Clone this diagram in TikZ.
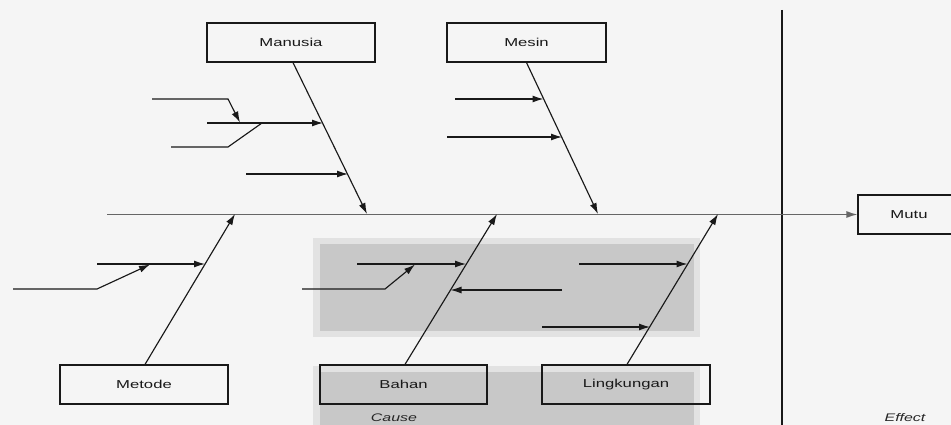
\documentclass[tikz,border=0pt]{standalone}
\usepackage{fontspec}
\setmainfont{Liberation Sans}
\usepackage{graphicx}
\usetikzlibrary{arrows.meta,calc}
\definecolor{bgc}{RGB}{245,245,245}
\definecolor{shadec}{RGB}{200,200,200}
\definecolor{haloc}{RGB}{226,226,226}
\definecolor{inkc}{RGB}{25,25,25}
\newcommand\wt[1]{\scalebox{1.45}[1]{#1}}
\tikzset{
  box/.style={draw=inkc, line width=1.2pt, minimum height=39pt, inner sep=0pt,
              font=\fontsize{11.5}{13}\selectfont, text=black!90},
  lab/.style={font=\fontsize{11}{13}\selectfont\itshape, text=black!85, inner sep=0pt},
  arr/.style={draw=inkc, line width=1.15pt, -{Latex[length=11pt,width=7pt]}},
  plain/.style={draw=inkc, line width=1.15pt},
  spine/.style={draw=black!60, line width=1.2pt, -{Latex[length=11pt,width=7pt]}}
}
\begin{document}
\begin{tikzpicture}[x=1pt,y=-1pt]
\useasboundingbox (0,0) rectangle (951,425);
\fill[bgc] (0,0) rectangle (951,425);
% shaded regions
\fill[haloc] (313,238) rectangle (700,337);
\fill[shadec] (320,244) rectangle (694,331);
\fill[haloc] (313,366) rectangle (700,430);
\fill[shadec] (320,372) rectangle (694,430);
% effect divider
\coordinate (vtop) at (782,10);
\coordinate (vbot) at (782,430);
\draw[draw=inkc, line width=1.2pt] (vtop) -- (vbot);

% boxes
\node[box, minimum width=168pt] (man) at (291,42.5) {\wt{Manusia}};
\node[box, minimum width=159pt] (mes) at (526.5,42.5) {\wt{Mesin}};
\node[box, minimum width=168pt] (met) at (144,384.5) {\wt{Metode}};
\node[box, minimum width=167pt] (bah) at (403.5,384.5) {\wt{Bahan}};
\node[box, minimum width=168pt] (lin) at (626,384.5) {\wt{Lingkungan}};
\node[box, minimum width=102pt] (mutu) at (909,214.5) {\wt{Mutu}};
\node[lab] (cause) at (394,418) {\wt{Cause}};
\node[lab] (effect) at (905,418) {\wt{Effect}};

% spine
\coordinate (sp0) at (107,214.5);
\draw[spine] (sp0) -- (mutu.west);

% main bones
\coordinate (manE) at (367,214);
\coordinate (mesE) at (598,214);
\coordinate (metE) at (235,214);
\coordinate (bahE) at (497,214);
\coordinate (linE) at (718,214);
\draw[arr] ($(man.south)+(2,0)$) -- (manE);
\draw[arr] (mes.south) -- (mesE);
\draw[arr] ($(met.north)+(1,0)$) -- (metE);
\draw[arr] ($(bah.north)+(1.5,0)$) -- (bahE);
\draw[arr] ($(lin.north)+(1,0)$) -- (linE);

% Manusia sub-causes
\coordinate (m1s) at (207,123);  \coordinate (m1e) at (323,123);
\coordinate (m2s) at (246,174);  \coordinate (m2e) at (348,174);
\coordinate (m3s) at (152,99);   \coordinate (m3k) at (228,99);  \coordinate (m3e) at (240,122.5);
\coordinate (m4s) at (171,147);  \coordinate (m4k) at (228,147); \coordinate (m4e) at (262,123);
\draw[arr] (m1s) -- (m1e);
\draw[arr] (m2s) -- (m2e);
\draw[arr] (m3s) -- (m3k) -- (m3e);
\draw[plain] (m4s) -- (m4k) -- (m4e);

% Mesin sub-causes
\coordinate (s1s) at (455,99);   \coordinate (s1e) at (543.5,99);
\coordinate (s2s) at (447,137);  \coordinate (s2e) at (562,137);
\draw[arr] (s1s) -- (s1e);
\draw[arr] (s2s) -- (s2e);

% Metode sub-causes
\coordinate (t1s) at (97,264);   \coordinate (t1e) at (205,264);
\coordinate (t2s) at (13,289);   \coordinate (t2k) at (97,289);  \coordinate (t2e) at (150,264.5);
\draw[arr] (t1s) -- (t1e);
\draw[arr] (t2s) -- (t2k) -- (t2e);

% Bahan sub-causes
\coordinate (b1s) at (357,264);  \coordinate (b1e) at (466,264);
\coordinate (b2s) at (302,289);  \coordinate (b2k) at (385,289); \coordinate (b2e) at (415,264.5);
\coordinate (b3s) at (562,290);  \coordinate (b3e) at (450.5,290);
\draw[arr] (b1s) -- (b1e);
\draw[arr] (b2s) -- (b2k) -- (b2e);
\draw[arr] (b3s) -- (b3e);

% Lingkungan sub-causes
\coordinate (l1s) at (579,264);  \coordinate (l1e) at (687.5,264);
\coordinate (l2s) at (542,327);  \coordinate (l2e) at (650,327);
\draw[arr] (l1s) -- (l1e);
\draw[arr] (l2s) -- (l2e);
\end{tikzpicture}
\end{document}
